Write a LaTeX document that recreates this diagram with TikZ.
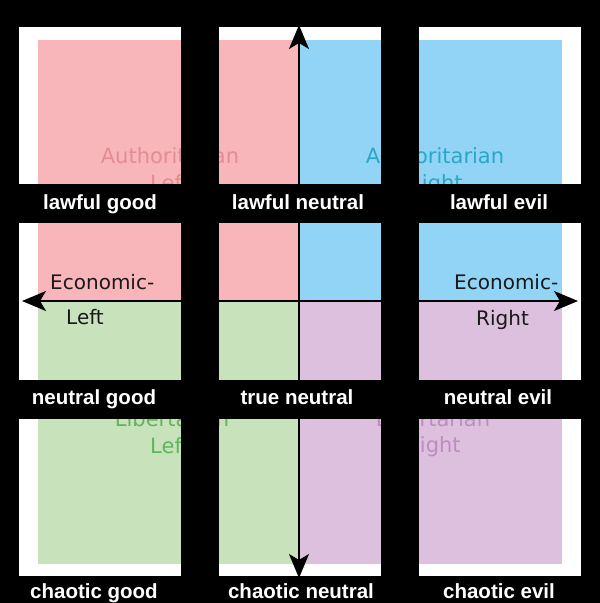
\documentclass[tikz,border=0pt]{standalone}
\usepackage{fontspec}
\setmainfont{Liberation Sans}
\newfontfamily\compassfont{DejaVu Sans}
\usetikzlibrary{arrows.meta}
\definecolor{QuadRed}{RGB}{249,182,186}
\definecolor{QuadBlue}{RGB}{146,212,245}
\definecolor{QuadGreen}{RGB}{200,226,187}
\definecolor{QuadPurple}{RGB}{221,192,222}
\definecolor{TxtRed}{RGB}{228,140,150}
\definecolor{TxtBlue}{RGB}{40,168,200}
\definecolor{TxtGreen}{RGB}{95,182,90}
\definecolor{TxtPurple}{RGB}{190,140,195}
\tikzset{
  faded/.style={font=\compassfont\fontsize{21}{25}\selectfont,inner sep=0pt,anchor=base},
  econ/.style={font=\compassfont\fontsize{20}{24}\selectfont,text=black!90,inner sep=0pt,anchor=base west},
  axis/.style={draw=black,line width=1.6pt,
    {Stealth[length=24pt,width=20pt,inset=6pt]}-{Stealth[length=24pt,width=20pt,inset=6pt]}},
  cell/.style={font=\bfseries\fontsize{20.5}{24}\selectfont,text=white,inner sep=0pt,anchor=base},
  bar/.style={fill=black},
}

\begin{document}
\begin{tikzpicture}[x=1pt,y=-1pt]
\useasboundingbox (0,0) rectangle (600,603);
\fill[white] (0,0) rectangle (600,603);
% compass quadrants
\coordinate (mid) at (299,301);
\fill[QuadRed] (38,40) rectangle (mid);
\fill[QuadBlue] (562,40) rectangle (mid);
\fill[QuadGreen] (38,564) rectangle (mid);
\fill[QuadPurple] (562,564) rectangle (mid);
\node[faded,text=TxtRed] (al1) at (170,163) {Authoritarian};
\node[faded,text=TxtRed] (al2) at (170,190) {Left};
\node[faded,text=TxtBlue] (ar1) at (435,163) {Authoritarian};
\node[faded,text=TxtBlue] (ar2) at (435,190) {Right};
\node[faded,text=TxtGreen] (ll1) at (172,426) {Libertarian};
\node[faded,text=TxtGreen] (ll2) at (170,453) {Left};
\node[faded,text=TxtPurple] (lr1) at (433,426) {Libertarian};
\node[faded,text=TxtPurple] (lr2) at (433,452) {Right};
\node[econ] (el1) at (50,289) {Economic-};
\node[econ] (el2) at (66,324) {Left};
\node[econ] (er1) at (454,289) {Economic-};
\node[econ] (er2) at (476,325) {Right};
% axes
\coordinate (top) at (299,25);
\coordinate (bot) at (299,578);
\coordinate (lft) at (22,301);
\coordinate (rgt) at (578,301);
\draw[axis] (lft) -- (rgt);
\draw[axis] (bot) -- (top);
% black grid
\foreach \ya/\yb in {0/27,184/223,380/419,576/603}
  \fill[bar] (0,\ya) rectangle (600,\yb);
\foreach \xa/\xb in {0/19,181/219,381/419,581/600}
  \fill[bar] (\xa,0) rectangle (\xb,603);
% alignment labels
\node[cell] (lg) at (100,209) {lawful good};
\node[cell] (ln) at (298,209) {lawful neutral};
\node[cell] (le) at (499,209) {lawful evil};
\node[cell] (ng) at (94,404) {neutral good};
\node[cell] (tn) at (297,404) {true neutral};
\node[cell] (ne) at (498,404) {neutral evil};
\node[cell] (cg) at (94,598) {chaotic good};
\node[cell] (cn) at (301,598) {chaotic neutral};
\node[cell] (ce) at (499,598) {chaotic evil};
\end{tikzpicture}
\end{document}
